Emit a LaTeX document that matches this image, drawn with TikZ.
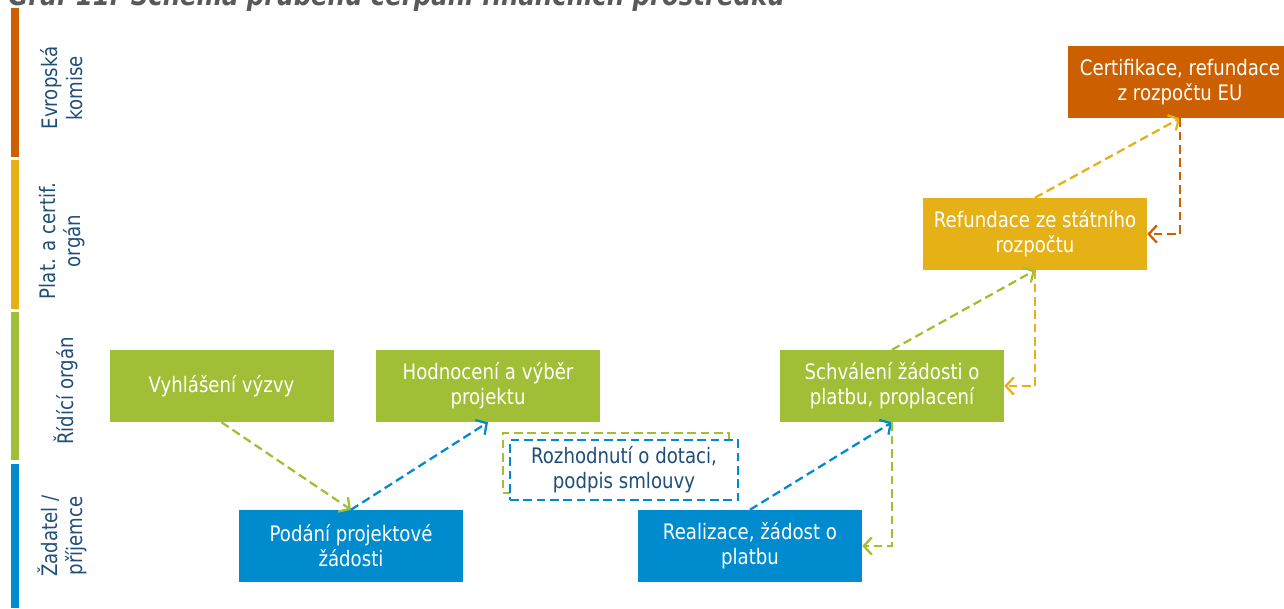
\documentclass[tikz,border=0pt]{standalone}
\usepackage{fontspec}
\setmainfont{DejaVu Sans}[FakeStretch=0.85]
\usetikzlibrary{arrows.meta,positioning}
\definecolor{cgreen}{HTML}{A1BF36}
\definecolor{cblue}{HTML}{008BCF}
\definecolor{cyellow}{HTML}{E6B017}
\definecolor{corange}{HTML}{CC5F00}
\definecolor{cnavy}{HTML}{1F4E79}
\definecolor{cgray}{HTML}{595959}

\begin{document}
\begin{tikzpicture}[
  x=0.75pt, y=-0.75pt,
  every node/.style={font=\fontsize{16}{18.75}\selectfont, align=center, inner sep=0pt},
  stepbox/.style={rectangle, minimum width=168pt, minimum height=54pt, text=white},
  lane/.style={rotate=90, text=cnavy},
  dashbox/.style={rectangle, line width=1.7pt, dash pattern=on 6.5pt off 3.5pt},
  flow/.style={line width=1.7pt, dash pattern=on 6.5pt off 3.5pt,
    -{Straight Barb[length=6pt,width=13pt,line width=1.7pt]}}
]
\useasboundingbox (0,0) rectangle (1284,608);
\clip (0,0) rectangle (1284,608);

% title, cut off at the top
\node[anchor=base west, font=\fontsize{21.5}{24}\selectfont\bfseries\itshape, text=cgray]
  (title) at (8,5) {Graf 11: Schéma průběhu čerpání finančních prostředků};

% lanes
\fill[corange] (11,8) rectangle (19,157);
\fill[cyellow] (11,160) rectangle (19,309);
\fill[cgreen] (11,312) rectangle (19,460);
\fill[cblue] (11,464) rectangle (19,608);
\node[lane] (ek) at (62,88) {Evropská\\komise};
\node[lane] (pco) at (62,241) {Plat. a certif.\\orgán};
\node[lane] (ro) at (66,391) {Řídící orgán};
\node[lane] (zp) at (62,536) {Žadatel /\\příjemce};

% steps
\node[stepbox, fill=cgreen] (vyhlaseni) at (221.5,386) {Vyhlášení výzvy};
\node[stepbox, fill=cgreen] (hodnoceni) at (488,386) {Hodnocení a výběr\\projektu};
\node[stepbox, fill=cblue] (podani) at (351,546) {Podání projektové\\žádosti};
\node[dashbox, draw=cgreen, minimum width=170pt, minimum height=45pt] (rozhodnutiback) at (616,463) {};
\node[dashbox, draw=cblue, fill=white, text=cnavy, minimum width=171pt, minimum height=45pt]
  (rozhodnuti) at (624,470) {Rozhodnutí o dotaci,\\podpis smlouvy};
\node[stepbox, fill=cblue] (realizace) at (750,546) {Realizace, žádost o\\platbu};
\node[stepbox, fill=cgreen] (schvaleni) at (892,386) {Schválení žádosti o\\platbu, proplacení};
\node[stepbox, fill=cyellow] (refundace) at (1035,234) {Refundace ze státního\\rozpočtu};
\node[stepbox, fill=corange] (certifikace) at (1180,82) {Certifikace, refundace\\z rozpočtu EU};

% flows
\draw[flow, cgreen] (vyhlaseni.south) -- (podani.north);
\draw[flow, cblue] (podani.north) -- (hodnoceni.south);
\draw[flow, cblue] (realizace.north) -- (schvaleni.south);
\draw[flow, cgreen] (schvaleni.south) |- (realizace.east);
\draw[flow, cgreen] (schvaleni.north) -- (refundace.south);
\draw[flow, cyellow] (refundace.south) |- (schvaleni.east);
\draw[flow, cyellow] (refundace.north) -- (certifikace.south);
\draw[flow, corange] (certifikace.south) |- (refundace.east);
\end{tikzpicture}
\end{document}
